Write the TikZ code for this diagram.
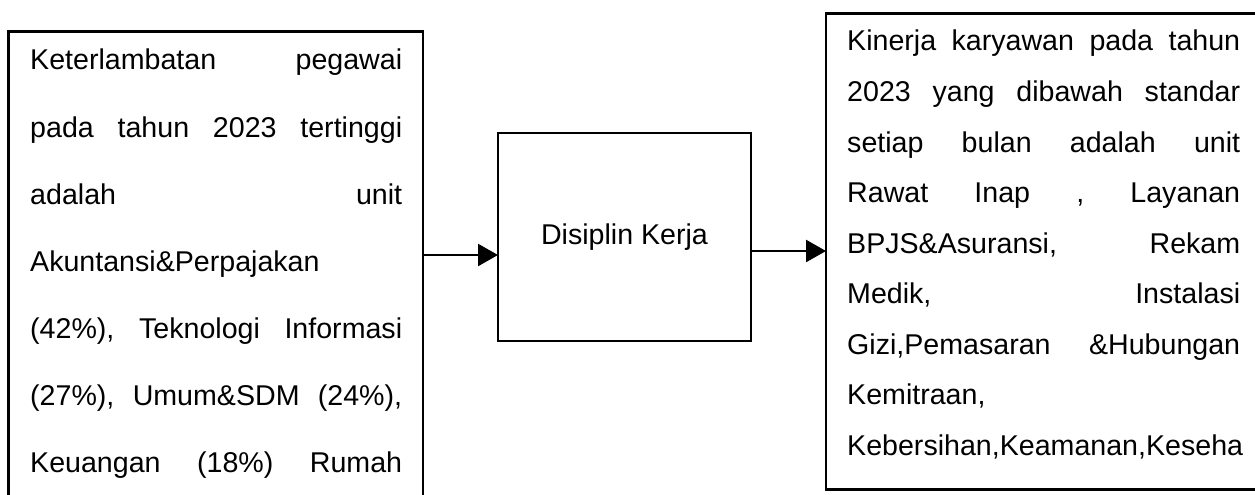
\documentclass[tikz,border=0pt]{standalone}
\usepackage{fontspec}
\setmainfont{Liberation Sans}
\usetikzlibrary{arrows.meta}
\begin{document}
\begin{tikzpicture}[x=1pt,y=-1pt,
  box/.style={draw,line width=2.6pt,inner sep=0pt,outer sep=0pt},
  txt/.style={anchor=base west,inner sep=0pt,font=\fontsize{28.6}{30}\selectfont},
  arr/.style={line width=2.4pt,-{Triangle[length=20pt,width=22pt]}}]
\useasboundingbox (0,0) rectangle (1255,495);
\clip (0,0) rectangle (1255,495);
% boxes
\node[box,minimum width=414.5pt,minimum height=500pt,anchor=north west] (lbox) at (8.5,31.7) {};
\node[box,minimum width=253pt,minimum height=208pt,anchor=north west,font=\fontsize{28.6}{30}\selectfont] (mbox) at (498,133) {Disiplin Kerja};
\node[box,minimum width=450pt,minimum height=476pt,anchor=north west] (rbox) at (826,13.3) {};
% left text
\node[txt] (l1) at (30,70) {\hbox to 372pt{Keterlambatan\hfill pegawai}};
\node[txt] (l2) at (30,137) {\hbox to 372pt{pada\hfill tahun\hfill 2023\hfill tertinggi}};
\node[txt] (l3) at (30,204) {\hbox to 372pt{adalah\hfill unit}};
\node[txt] (l4) at (30,271) {Akuntansi\&Perpajakan};
\node[txt] (l5) at (30,338) {\hbox to 372pt{(42\%),\hfill Teknologi\hfill Informasi}};
\node[txt] (l6) at (30,405) {\hbox to 372pt{(27\%),\hfill Umum\&SDM\hfill (24\%),}};
\node[txt] (l7) at (30,472) {\hbox to 372pt{Keuangan\hfill (18\%)\hfill Rumah}};
% right text
\node[txt] (r1) at (847,51) {\hbox to 393pt{Kinerja\hfill karyawan\hfill pada\hfill tahun}};
\node[txt] (r2) at (847,101.5) {\hbox to 393pt{2023\hfill yang\hfill dibawah\hfill standar}};
\node[txt] (r3) at (847,152) {\hbox to 393pt{setiap\hfill bulan\hfill adalah\hfill unit}};
\node[txt] (r4) at (847,202.5) {\hbox to 393pt{Rawat\hfill Inap\hfill ,\hfill Layanan}};
\node[txt] (r5) at (847,253) {\hbox to 393pt{BPJS\&Asuransi,\hfill Rekam}};
\node[txt] (r6) at (847,303.5) {\hbox to 393pt{Medik,\hfill Instalasi}};
\node[txt] (r7) at (847,354) {\hbox to 393pt{Gizi,Pemasaran\hfill \&Hubungan}};
\node[txt] (r8) at (847,404.5) {Kemitraan,};
\node[txt] (r9) at (847,455) {Kebersihan,Keamanan,Keseha};
% arrows
\draw[arr] (lbox.east |- 0,255) -- (mbox.west |- 0,255);
\draw[arr] (mbox.east |- 0,251) -- (rbox.west |- 0,251);
\end{tikzpicture}
\end{document}
